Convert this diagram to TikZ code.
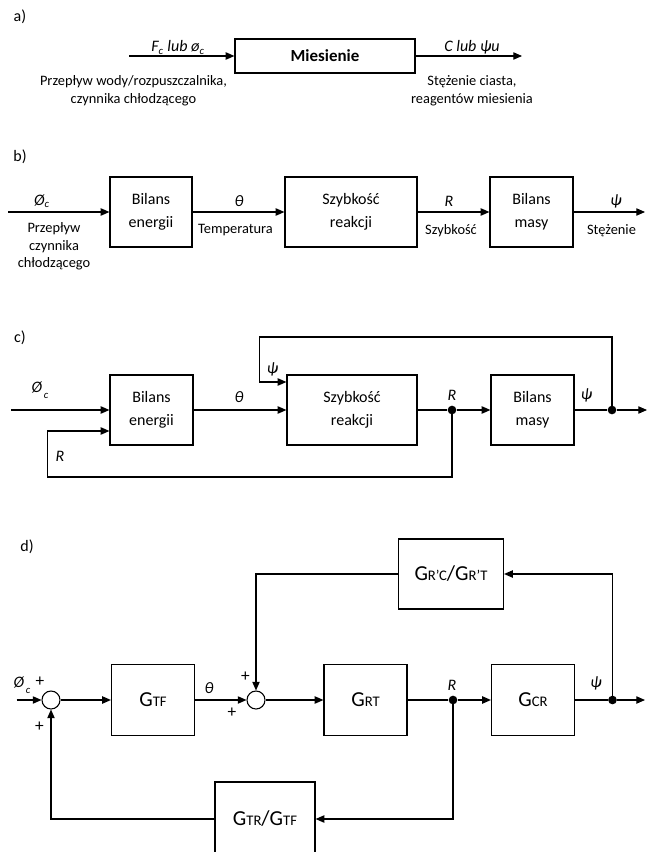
\documentclass[tikz,border=0pt]{standalone}
\usepackage{fontspec}
\setmainfont{Carlito}
\usetikzlibrary{arrows.meta}
\newcommand{\boxfont}{\fontsize{12}{17.5}\selectfont}
\newcommand{\labfont}{\fontsize{10.8}{13.3}\selectfont}
\newcommand{\symfont}{\fontsize{12}{14}\selectfont\itshape}
\newcommand{\gfont}{\fontsize{16}{18}\selectfont}
\newcommand{\gsub}[1]{{\fontsize{11}{11}\selectfont #1}}

\begin{document}
\begin{tikzpicture}[x=0.75pt,y=-0.75pt,
  blok/.style={draw,line width=0.9pt,inner sep=0pt,align=center,font=\boxfont},
  linia/.style={line width=0.8pt},
  strz/.style={linia,-{Triangle[length=6.5pt,width=5.5pt]}},
  opis/.style={inner sep=0pt,align=center,font=\labfont},
  sym/.style={inner sep=0pt,font=\symfont},
  znak/.style={inner sep=0pt,font=\fontsize{13}{13}\selectfont},
  sum/.style={draw,circle,line width=0.8pt,minimum size=13.5pt,inner sep=0pt},
  kropka/.style={circle,fill,inner sep=0pt,minimum size=6.5pt}]
\useasboundingbox (0,0) rectangle (649,852);

% a)
\node[sym,font=\fontsize{12}{14}\selectfont] (ta) at (20,17) {a)};
\node[blok,font=\fontsize{12.7}{14}\selectfont\bfseries,minimum width=135pt,minimum height=25.5pt] (mies) at (325,56) {Miesienie};
\coordinate (ain) at (129,56);
\coordinate (aout) at (522,56);
\draw[strz] (ain)--(mies);
\draw[strz] (mies)--(aout);
\node[sym] (afc) at (178,47.5) {F\textsubscript{c} lub ø\textsubscript{c}};
\node[sym] (acpsi) at (472,47.5) {C lub ψu};
\node[opis] (aprz) at (133.5,90.5) {Przepływ wody/rozpuszczalnika,\\czynnika chłodzącego};
\node[opis] (astez) at (472,90.5) {Stężenie ciasta,\\reagentów miesienia};

% b)
\node[sym,font=\fontsize{12}{14}\selectfont] (tb) at (20,157) {b)};
\node[blok,minimum width=61.5pt,minimum height=52.5pt] (b1) at (151,212) {Bilans\\energii};
\node[blok,minimum width=99pt,minimum height=52.5pt] (b2) at (351,212) {Szybkość\\reakcji};
\node[blok,minimum width=62.25pt,minimum height=52.5pt] (b3) at (531.5,212) {Bilans\\masy};
\coordinate (bin) at (8,212);
\coordinate (bout) at (645,212);
\draw[strz] (bin)--(b1);
\draw[strz] (b1)--(b2);
\draw[strz] (b2)--(b3);
\draw[strz] (b3)--(bout);
\node[sym] (bphi) at (42,201) {Ø\textsubscript{c}};
\node[sym] (bth) at (239,201) {θ};
\node[sym] (br) at (449,201) {R};
\node[sym] (bpsi) at (616,201) {ψ};
\node[opis] (bprz) at (54,246.5) {Przepływ\\czynnika\\chłodzącego};
\node[opis] (btemp) at (235.5,230) {Temperatura};
\node[opis] (bszyb) at (451,230.5) {Szybkość};
\node[opis] (bstez) at (611.5,230.5) {Stężenie};

% c)
\node[sym,font=\fontsize{12}{14}\selectfont] (tc) at (20,338) {c)};
\node[blok,minimum width=62.25pt,minimum height=52.5pt] (c1) at (151.5,410) {Bilans\\energii};
\node[blok,minimum width=97.5pt,minimum height=52.5pt] (c2) at (352,410) {Szybkość\\reakcji};
\node[blok,minimum width=62.25pt,minimum height=52.5pt] (c3) at (532.5,410) {Bilans\\masy};
\node[kropka] (cR) at (452,410) {};
\node[kropka] (cpsi) at (612,410) {};
\coordinate (cin) at (11,410);
\coordinate (cout) at (647,410);
\coordinate (ct1) at (259.5,337);
\coordinate (ct2) at (259.5,382);
\coordinate (cb1) at (47.5,477);
\coordinate (cb2) at (47.5,431);
\draw[strz] (cin)--(c1);
\draw[strz] (c1)--(c2);
\draw[linia] (c2)--(cR);
\draw[strz] (cR)--(c3);
\draw[linia] (c3)--(cpsi);
\draw[strz] (cpsi)--(cout);
\draw[strz] (cpsi.center) |- (ct1)--(ct2)--(ct2 -| c2.west);
\draw[strz] (cR.center) |- (cb1)--(cb2)--(cb2 -| c1.west);
\node[sym] (cphi) at (40,390) {Ø\raisebox{-0.7ex}{\fontsize{8}{8}\selectfont\,c}};
\node[sym] (cth) at (239,397.5) {θ};
\node[sym] (cr) at (452,395) {R};
\node[sym] (cpsil) at (586.5,395) {ψ};
\node[sym] (cpsit) at (272.5,369) {ψ};
\node[sym] (crl) at (60,456.5) {R};

% d)
\node[sym,font=\fontsize{12}{14}\selectfont] (td) at (27,546.5) {d)};
\node[blok,font=\gfont,minimum width=78.75pt,minimum height=52.5pt] (dRC) at (451,574) {G\gsub{R’C}/G\gsub{R’T}};
\node[blok,font=\gfont,minimum width=62.25pt,minimum height=53.25pt] (dTF) at (153,700) {G\gsub{TF}};
\node[blok,font=\gfont,minimum width=62.25pt,minimum height=53.25pt] (dRT) at (365.5,700) {G\gsub{RT}};
\node[blok,font=\gfont,minimum width=62.25pt,minimum height=53.25pt] (dCR) at (533,700) {G\gsub{CR}};
\node[blok,font=\gfont,minimum width=75pt,minimum height=55.5pt] (dTR) at (265,819) {G\gsub{TR}/G\gsub{TF}};
\node[sum] (s1) at (51,700) {};
\node[sum] (s2) at (256,700) {};
\node[kropka] (dR) at (453,700) {};
\node[kropka] (dpsi) at (612.5,700) {};
\coordinate (din) at (16.5,700);
\coordinate (dout) at (645,700);
\draw[strz] (din)--(s1);
\draw[strz] (s1)--(dTF);
\draw[strz] (dTF)--(s2);
\draw[strz] (s2)--(dRT);
\draw[linia] (dRT)--(dR);
\draw[strz] (dR)--(dCR);
\draw[linia] (dCR)--(dpsi);
\draw[strz] (dpsi)--(dout);
\draw[strz] (dpsi.center) |- (dRC.east);
\draw[strz] (dRC.west) -| (s2.north);
\draw[strz] (dR.center) |- (dTR.east);
\draw[strz] (dTR.west) -| (s1.south);
\node[sym] (dphi) at (22,685) {Ø\raisebox{-0.7ex}{\fontsize{8}{8}\selectfont\,c}};
\node[znak] (p1) at (40,681.5) {+};
\node[znak] (p2) at (39.5,726.5) {+};
\node[znak] (p3) at (245.5,676.5) {+};
\node[znak] (p4) at (232,712.5) {+};
\node[sym] (dth) at (209,688.5) {θ};
\node[sym] (dr) at (452,685) {R};
\node[sym] (dpsil) at (596,683.5) {ψ};
\end{tikzpicture}
\end{document}
